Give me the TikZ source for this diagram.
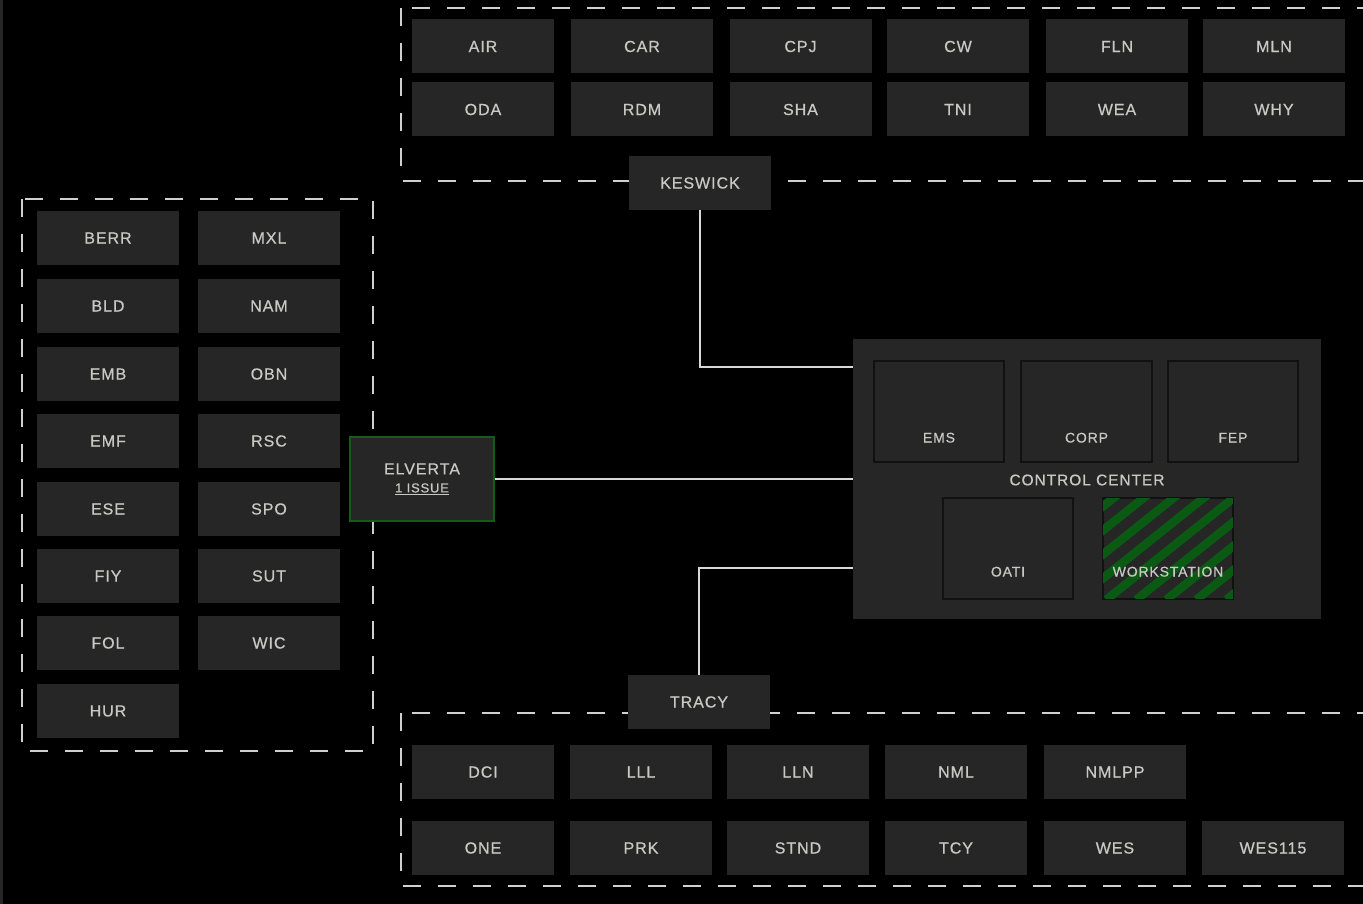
\documentclass[tikz,border=0pt]{standalone}
\usepackage{fontspec}
\setmainfont{Liberation Sans}[LetterSpace=6, FakeBold=0.6]
\definecolor{cellbg}{HTML}{262626}
\definecolor{txt}{HTML}{C8C8C4}
\definecolor{linec}{HTML}{D8D8D8}
\definecolor{dashc}{HTML}{D0D0D0}
\definecolor{grn}{HTML}{0B5A14}
\definecolor{grnb}{HTML}{145C1A}
\definecolor{innerb}{HTML}{111111}
\tikzset{
  cell/.style={fill=cellbg, draw=none, minimum width=142pt, minimum height=54pt, inner sep=0pt,
    text=txt, font=\fontsize{16}{19}\selectfont},
  grp/.style={draw=dashc, line width=1.4pt, dash pattern=on 18pt off 17pt},
  conn/.style={draw=linec, line width=1.2pt},
  inbox/.style={fill=cellbg, draw=innerb, line width=1.4pt, minimum width=130pt, minimum height=101pt, inner sep=0pt},
  lbl/.style={text=txt, font=\fontsize{14}{16}\selectfont, inner sep=0pt},
  hatch/.style={draw=grn, line width=8.5pt}
}
\begin{document}
\begin{tikzpicture}[x=1pt,y=-1pt]
\useasboundingbox[fill=black] (0,0) rectangle (1363,904);
\fill[cellbg] (0,0) rectangle (2.5,904);
% dashed groups
\draw[grp] (401,8) rectangle (1380,181);
\draw[grp] (401,713) rectangle (1380,886);
\draw[grp] (22,199) rectangle (373,751);
% top cells
\foreach \t/\x in {AIR/483,CAR/642,CPJ/800.5,CW/958,FLN/1117,MLN/1274}
  \node[cell] (t-\t) at (\x,46.5) {\t};
\foreach \t/\x in {ODA/483,RDM/642,SHA/800.5,TNI/958,WEA/1117,WHY/1274}
  \node[cell] (t-\t) at (\x,109.5) {\t};
% bottom cells
\foreach \t/\x in {DCI/483,LLL/641,LLN/798,NML/956,NMLPP/1115}
  \node[cell] (b-\t) at (\x,772) {\t};
\foreach \t/\x in {ONE/483,PRK/641,STND/798,TCY/956,WES/1115,WES115/1273}
  \node[cell] (b-\t) at (\x,848) {\t};
% left cells
\foreach \t/\y in {BERR/238,BLD/306,EMB/374,EMF/441,ESE/509,FIY/576,FOL/643,HUR/711}
  \node[cell] (l-\t) at (108,\y) {\t};
\foreach \t/\y in {MXL/238,NAM/306,OBN/374,RSC/441,SPO/509,SUT/576,WIC/643}
  \node[cell] (l-\t) at (269,\y) {\t};
% hubs
\node[cell] (kes) at (700,183) {KESWICK};
\node[cell] (tra) at (699,702) {TRACY};
\node[cell, minimum width=144pt, minimum height=84pt, draw=grnb, line width=1.2pt, align=center] (elv) at (422,479)
  {ELVERTA\\[-1pt]{\fontsize{13}{15}\selectfont\underline{1 ISSUE}}};
% control center
\node[fill=cellbg, minimum width=468pt, minimum height=280pt, inner sep=0pt] (cc) at (1087,479) {};
\node[lbl, font=\fontsize{15.5}{18}\selectfont] (cctitle) at (1087,480) {CONTROL CENTER};
\node[inbox] (ems) at (939,411.5) {};
\node[inbox, minimum width=131pt] (corp) at (1086.5,411.5) {};
\node[inbox] (fep) at (1233,411.5) {};
\node[inbox] (oati) at (1008,548.5) {};
\node[inbox] (ws) at (1168,548.5) {};
\begin{scope}
  \clip (ws.south west) rectangle (ws.north east);
  \foreach \i in {-6,...,6}
    \draw[hatch] ([xshift=\i*30pt+4pt]ws.south west) -- ++(175pt,140pt);
\end{scope}
\draw[innerb, line width=1.4pt] (ws.south west) rectangle (ws.north east);
\node[lbl] at ([yshift=25pt]ems.south) {EMS};
\node[lbl] at ([yshift=25pt]corp.south) {CORP};
\node[lbl] at ([yshift=25pt]fep.south) {FEP};
\node[lbl] at ([yshift=28pt]oati.south) {OATI};
\node[lbl] at ([yshift=28pt]ws.south) {WORKSTATION};
% connectors
\draw[conn] (kes.south) |- ([yshift=112pt]cc.west);
\draw[conn] (elv.east) -- (cc.west);
\draw[conn] (tra.north) |- ([yshift=-89pt]cc.west);
\end{tikzpicture}
\end{document}
